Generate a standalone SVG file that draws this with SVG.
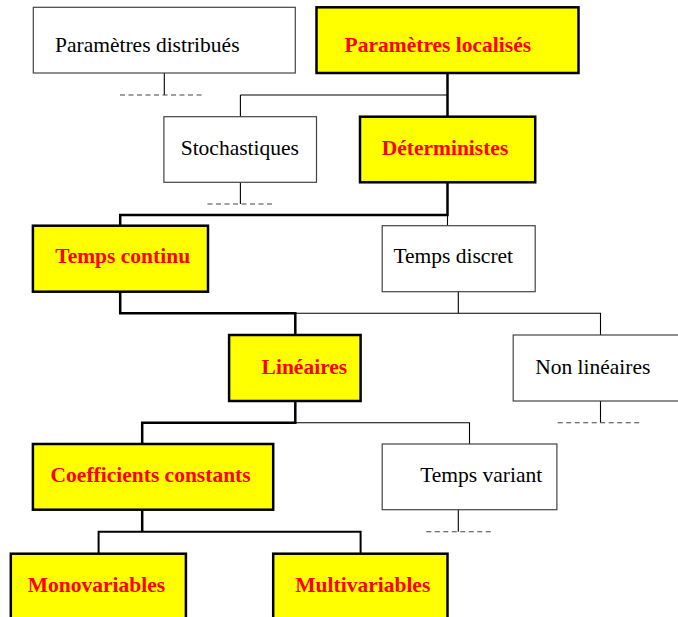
<svg xmlns="http://www.w3.org/2000/svg" width="678" height="617" viewBox="0 0 678 617">
<style>
.hi rect{fill:#ffff00;stroke:#000;stroke-width:2.5}
.lo rect{fill:#fff;stroke:#444;stroke-width:1.2}
.hi text{font-family:"Liberation Serif",serif;font-weight:bold;font-size:21.5px;fill:#ff0000}
.lo text{font-family:"Liberation Serif",serif;font-size:21.5px;fill:#000}
.thick{stroke:#000;stroke-width:2.5;fill:none}
.thin{stroke:#000;stroke-width:1.1;fill:none}
.dash{stroke:#444;stroke-width:1.1;stroke-dasharray:5 3.5;fill:none}
</style>
<rect width="678" height="617" fill="#fff"/>
<g id="connectors">
<path class="thin" d="M164.3 73V95"/>
<path class="dash" d="M120 95H203"/>
<path class="thick" d="M447.5 73V116.7"/>
<path class="thin" d="M240.4 95H447.5M240.4 95V116.7"/>
<path class="thin" d="M240.4 182.3V204"/>
<path class="dash" d="M207.5 204H273.2"/>
<path class="thick" d="M447.5 182.3V215H120.2V225.7"/>
<path class="thin" d="M447.5 215V225.7"/>
<path class="thick" d="M120.2 291.7V313.3H295.3V335"/>
<path class="thin" d="M295.3 313.3H600.5V335M458.3 291.7V313.3"/>
<path class="thin" d="M600.5 401V422.7"/>
<path class="dash" d="M557.7 422.7H640"/>
<path class="thick" d="M295.3 401V422.7H142.2V444"/>
<path class="thin" d="M295.3 422.7H469.5V444"/>
<path class="thin" d="M458.3 509.7V531.7"/>
<path class="dash" d="M426.3 531.7H491.1"/>
<path class="thick" d="M142.2 509.7V531.7"/>
<path class="thick" d="M98.6 553.7V531.7H360.6V553.7" style="stroke-width:2"/>
</g>
<g id="param-distribues" class="lo"><rect x="33.3" y="7.3" width="262" height="65.7"/><text x="55" y="52">Paramètres distribués</text></g>
<g id="param-localises" class="hi"><rect x="316.5" y="7.3" width="262" height="65.7"/><text x="344.6" y="52">Paramètres localisés</text></g>
<g id="stochastiques" class="lo"><rect x="163.9" y="116.7" width="152.6" height="65.6"/><text x="180.7" y="154.5">Stochastiques</text></g>
<g id="deterministes" class="hi"><rect x="360" y="116.7" width="175.2" height="65.6"/><text x="381.7" y="154.5">Déterministes</text></g>
<g id="temps-continu" class="hi"><rect x="32.9" y="225.7" width="175.1" height="66"/><text x="55.3" y="263.3">Temps continu</text></g>
<g id="temps-discret" class="lo"><rect x="382.2" y="225.7" width="153" height="66"/><text x="393.4" y="263.3">Temps discret</text></g>
<g id="lineaires" class="hi"><rect x="229.1" y="335" width="131.5" height="66"/><text x="261.6" y="374.3">Linéaires</text></g>
<g id="non-lineaires" class="lo"><rect x="513.2" y="335" width="180" height="66"/><text x="535.2" y="374.3">Non linéaires</text></g>
<g id="coefficients-constants" class="hi"><rect x="32.9" y="444" width="240.3" height="65.7"/><text x="50.6" y="481.7">Coefficients constants</text></g>
<g id="temps-variant" class="lo"><rect x="382.2" y="444" width="174.7" height="65.7"/><text x="420.2" y="481.7">Temps variant</text></g>
<g id="monovariables" class="hi"><rect x="10.8" y="553.7" width="175.1" height="80"/><text x="27.7" y="591.7">Monovariables</text></g>
<g id="multivariables" class="hi"><rect x="273.2" y="553.7" width="174.3" height="80"/><text x="295.3" y="591.7">Multivariables</text></g>
</svg>
